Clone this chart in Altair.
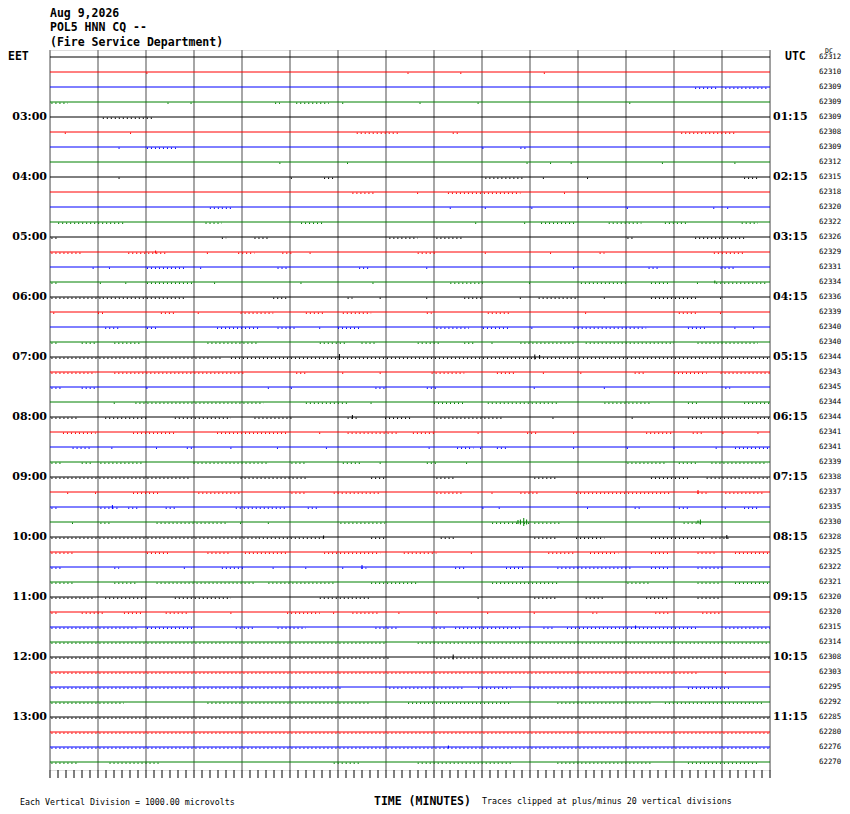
import altair as alt
import pandas as pd

# ---------------- data ----------------
title_lines = ["Aug 9,2026", "POL5 HNN CQ --", "(Fire Service Department)"]
left_times = ["03:00", "04:00", "05:00", "06:00", "07:00", "08:00",
              "09:00", "10:00", "11:00", "12:00", "13:00"]
right_times = ["01:15", "02:15", "03:15", "04:15", "05:15", "06:15",
               "07:15", "08:15", "09:15", "10:15", "11:15"]
dc_values = [62312, 62310, 62309, 62309, 62309, 62308, 62309, 62312,
             62315, 62318, 62320, 62322, 62326, 62329, 62331, 62334,
             62336, 62339, 62340, 62340, 62344, 62343, 62345, 62344,
             62344, 62341, 62341, 62339, 62338, 62337, 62335, 62330,
             62328, 62325, 62322, 62321, 62320, 62320, 62315, 62314,
             62308, 62303, 62295, 62292, 62285, 62280, 62276, 62270]
minute_labels = list(range(16))
trace_colors = ["#000000", "#ff0000", "#0000ff", "#008000"]

# noisy stretches (start minute, end minute) per trace
noise_q1 = [
    [],
    [(2.02, 2.02), (7.46, 7.46), (8.56, 8.56), (10.3, 10.3)],
    [(13.44, 13.93), (14.07, 14.95)],
    [(0.03, 0.37), (2.46, 2.46), (2.94, 2.94), (4.69, 4.79), (5.13, 5.81), (6.1, 6.1), (7.71, 7.71), (8.92, 8.92), (12.08, 12.08)],
    [(1.1, 2.17)],
    [(0.32, 0.32), (1.68, 1.68), (6.39, 7.27), (8.39, 8.53), (13.15, 14.27)],
    [(1.44, 1.44), (2.02, 2.65), (9.02, 9.02), (9.8, 9.94)],
    [(4.79, 4.79), (6.2, 6.2), (9.94, 9.94), (10.43, 10.43), (10.86, 10.86), (12.76, 12.76), (14.27, 14.27)],
    [(1.44, 1.44), (5.03, 5.03), (5.71, 5.91), (9.07, 9.89), (10.28, 10.28), (11.2, 11.2), (14.46, 14.75)],
    [(6.3, 6.78), (7.66, 7.66), (8.29, 9.8), (10.72, 10.72)],
    [(3.33, 3.82), (8.34, 8.34), (9.07, 9.07), (10.04, 10.04), (12.03, 12.03), (13.83, 13.83), (14.12, 14.12)],
    [(0.17, 1.54), (3.24, 3.58), (5.23, 5.67), (8.87, 8.87), (9.89, 9.89), (10.23, 10.96), (11.64, 12.32), (12.81, 13.29), (14.41, 14.75)],
]
noise_q2 = [
    [(0.03, 0.17), (3.58, 3.67), (4.26, 4.55), (7.07, 7.66), (8.05, 8.63), (12.03, 12.18), (13.44, 14.46)],
    [(0.03, 0.66), (1.63, 2.41), (3.28, 3.28), (3.92, 4.26), (4.84, 5.08), (5.42, 5.42), (7.66, 8.05), (9.07, 9.07), (10.43, 10.43), (11.45, 11.55), (13.83, 14.46)],
    [(0.9, 0.9), (1.24, 1.24), (2.02, 2.8), (3.14, 3.14), (4.74, 4.99), (6.44, 6.64), (7.85, 7.85), (10.91, 10.91), (12.47, 12.71), (13.97, 14.27)],
    [(0.03, 0.17), (1.05, 1.05), (1.58, 1.58), (2.02, 2.99), (3.43, 3.43), (5.23, 5.23), (6.73, 6.73), (8.34, 9.02), (9.99, 9.99), (11.06, 12.03), (12.52, 12.91), (13.49, 13.49), (13.88, 14.95)],
    [(0.03, 1.05), (1.1, 2.8), (4.65, 4.94), (6.2, 6.3), (6.88, 6.88), (7.85, 7.85), (8.63, 9.02), (9.8, 9.8), (10.18, 10.96), (11.55, 11.55), (12.52, 13.49), (13.97, 13.97)],
    [(0.08, 0.08), (1.0, 1.15), (2.31, 2.6), (3.09, 3.09), (3.97, 4.65), (5.33, 5.71), (6.1, 6.69), (7.85, 7.95), (9.12, 9.6), (11.16, 11.16), (13.1, 13.49), (13.97, 13.97)],
    [(1.15, 1.44), (2.02, 2.22), (3.48, 4.35), (4.74, 5.13), (5.62, 5.62), (6.0, 6.49), (8.05, 8.73), (9.02, 9.6), (10.04, 10.04), (10.91, 12.42), (13.29, 13.68), (14.27, 14.27), (14.66, 14.66)],
    [(0.03, 0.17), (0.66, 0.95), (1.34, 1.92), (3.28, 4.35), (5.62, 6.2), (6.49, 6.78), (7.66, 8.14), (8.63, 8.82), (9.21, 9.21), (9.8, 10.96), (11.16, 13.0), (13.49, 14.75)],
    [(0.03, 3.58), (3.77, 15.0)],
    [(0.03, 0.95), (1.34, 4.06), (5.13, 5.33), (6.1, 6.1), (6.88, 6.88), (7.95, 8.63), (9.31, 9.7), (10.28, 10.28), (11.06, 11.06), (12.18, 12.42), (13.0, 13.68), (13.97, 15.0)],
    [(0.03, 0.27), (0.66, 0.95), (2.02, 2.02), (4.55, 4.55), (5.03, 5.03), (6.78, 6.98), (7.85, 8.05), (10.09, 10.09), (11.55, 11.55), (14.07, 14.17)],
    [(1.34, 1.34), (1.78, 4.45), (5.33, 6.2), (6.69, 6.69), (8.0, 8.63), (9.12, 10.57), (11.55, 12.52), (13.29, 13.49), (14.46, 15.0)],
]
noise_q3 = [
    [(0.03, 0.56), (1.15, 2.02), (2.6, 3.77), (4.26, 5.03), (6.2, 6.39), (6.98, 7.56), (8.05, 9.41), (10.48, 10.48), (12.13, 12.13), (13.29, 15.0)],
    [(0.27, 0.95), (1.73, 2.6), (3.48, 4.94), (5.62, 5.62), (6.2, 7.27), (7.56, 8.05), (8.92, 8.92), (9.94, 10.18), (10.91, 10.91), (12.42, 13.0), (13.39, 13.59), (14.02, 14.02), (14.75, 14.75)],
    [(0.47, 0.86), (1.29, 1.29), (2.22, 2.22), (2.85, 2.99), (3.77, 3.77), (4.74, 4.74), (5.76, 5.76), (7.9, 7.9), (8.48, 8.82), (8.97, 8.97), (9.31, 9.5), (10.91, 10.91), (12.03, 12.03), (13.0, 13.0), (13.88, 13.88), (14.27, 15.0)],
    [(0.03, 0.22), (0.66, 0.86), (1.05, 1.92), (2.99, 4.55), (5.03, 5.33), (6.1, 6.49), (6.88, 6.88), (7.85, 8.05), (8.68, 8.68), (12.03, 12.81), (13.1, 13.49), (13.78, 14.95)],
    [(0.03, 2.9), (3.97, 5.33), (6.69, 6.98), (8.05, 8.44), (10.09, 10.57), (12.52, 13.29), (13.68, 15.0)],
    [(0.37, 0.37), (0.95, 0.95), (1.73, 2.31), (3.09, 3.97), (5.03, 5.33), (5.91, 6.88), (8.05, 8.63), (9.21, 9.21), (9.8, 10.18), (10.96, 12.91), (13.49, 13.68), (14.07, 14.85)],
    [(0.03, 0.17), (1.05, 1.44), (1.63, 1.83), (2.41, 2.6), (3.87, 4.94), (5.37, 5.57), (9.02, 9.02), (9.36, 9.36), (11.2, 11.2), (12.18, 12.32), (13.1, 13.29), (14.07, 14.07), (14.46, 14.75)],
    [(0.47, 0.47), (1.05, 1.24), (2.22, 3.67), (3.97, 3.97), (4.55, 4.55), (6.05, 6.98), (9.21, 9.99), (10.09, 10.67), (13.2, 13.59)],
    [(0.03, 4.35), (4.35, 5.71), (6.69, 6.98), (8.14, 8.44), (10.09, 10.57), (10.96, 11.55), (12.52, 13.68), (13.78, 14.17)],
    [(0.03, 0.47), (2.02, 2.51), (3.28, 3.77), (4.06, 4.94), (5.71, 6.88), (7.37, 8.05), (8.78, 8.78), (10.38, 10.96), (11.25, 11.84), (12.52, 12.91), (13.49, 13.88), (14.27, 15.0)],
    [(0.03, 0.27), (1.34, 1.44), (2.8, 2.8), (3.58, 4.06), (4.65, 4.65), (5.33, 5.33), (6.1, 6.1), (6.49, 6.59), (8.44, 8.63), (9.5, 9.89), (10.57, 12.13), (12.52, 12.91), (13.49, 14.07)],
    [(0.03, 0.47), (1.34, 1.83), (2.22, 4.26), (4.55, 5.91), (6.69, 7.66), (9.21, 10.57), (12.03, 12.52), (13.49, 13.97), (14.27, 15.0)],
]
noise_q4 = [
    [(0.03, 0.95), (1.15, 2.02), (2.6, 3.77), (5.62, 6.69), (8.92, 8.92), (10.09, 10.57), (11.16, 11.55), (12.42, 12.91), (13.49, 13.97)],
    [(0.03, 0.17), (0.66, 1.15), (1.54, 1.92), (2.41, 2.9), (3.77, 3.77), (4.94, 5.62), (5.91, 5.91), (6.3, 6.88), (7.27, 7.27), (8.05, 8.05), (9.12, 9.12), (10.09, 10.09), (11.3, 11.4), (12.61, 12.91), (13.59, 13.97)],
    [(0.03, 1.83), (2.02, 2.99), (3.87, 4.26), (4.74, 5.33), (6.78, 7.27), (7.95, 8.24), (8.44, 9.8), (10.28, 10.48), (10.77, 13.49), (14.07, 15.0)],
    [(0.03, 6.98), (7.66, 15.0)],
    [(0.03, 7.07), (8.05, 15.0)],
    [(0.03, 13.49), (14.07, 14.07)],
    [(0.03, 6.1), (7.07, 8.63), (8.92, 9.6), (9.99, 13.0), (13.29, 14.17)],
    [(0.03, 1.54), (3.28, 6.69), (7.46, 9.6), (10.57, 12.52), (12.81, 14.85)],
    [(0.03, 15.0)],
    [(0.03, 15.0)],
    [(0.03, 15.0)],
    [(0.03, 0.56), (1.24, 2.31), (5.91, 6.49), (7.66, 9.6), (10.57, 12.52), (13.29, 14.75)],
]

# larger wiggles: trace, minute, half-amplitude in pixels
event_trace = [31, 31, 31, 31, 31, 31, 20, 20, 20, 24, 29, 30, 32, 32, 34, 38, 40, 46, 13, 15]
event_minute = [9.75, 9.80, 9.87, 9.93, 13.50, 13.55, 6.03, 10.10, 10.20, 6.30,
                13.50, 1.30, 5.70, 14.10, 6.50, 12.20, 8.40, 8.30, 2.20, 13.85]
event_amp_px = [2, 2.5, 4, 2.5, 1.5, 2.5, 3, 2.5, 2, 2, 2, 2, 1.5, 2, 2, 1.5, 2.5, 1.5, 1.5, 1.5]

# ---------------- layout ----------------
W, H = 720, 720
N = len(dc_values)
SLOT_PX = H / N
TOP_OFF = 7 / SLOT_PX

xs = alt.Scale(domain=[0, 15], nice=False, zero=False)
ys = alt.Scale(domain=[-TOP_OFF, N - TOP_OFF], reverse=True, nice=False, zero=False)

traces_df = pd.DataFrame({"trace": list(range(N)),
                          "col": [trace_colors[i % 4] for i in range(N)],
                          "dc": [str(v) for v in dc_values]})

noise_rows = []
for qi, q in enumerate([noise_q1, noise_q2, noise_q3, noise_q4]):
    for j, segs in enumerate(q):
        t = qi * 12 + j
        for a, b in segs:
            if b - a < 0.03:
                a, b = a - 0.012, b + 0.012
            noise_rows.append({"trace": t, "start": a, "end": b, "col": trace_colors[t % 4]})
noise_df = pd.DataFrame(noise_rows)

ev_df = pd.DataFrame({
    "m": event_minute,
    "y0": [t - a / SLOT_PX for t, a in zip(event_trace, event_amp_px)],
    "y1": [t + a / SLOT_PX for t, a in zip(event_trace, event_amp_px)],
    "col": [trace_colors[t % 4] for t in event_trace],
})

minor_df = pd.DataFrame({"t": [i / 6 for i in range(91)]})
left_df = pd.DataFrame({"trace": [4 * (i + 1) for i in range(len(left_times))], "label": left_times})
right_df = pd.DataFrame({"trace": [4 * (i + 1) for i in range(len(right_times))], "label": right_times})
first_df = pd.DataFrame({"trace": [0]})

Y = lambda f: alt.Y(f, scale=ys, axis=None)

trace_lines = alt.Chart(traces_df).mark_rule(strokeWidth=1).encode(
    x=alt.value(0), x2=alt.value(W), y=Y("trace:Q"), color=alt.Color("col:N", scale=None))

noise = alt.Chart(noise_df).mark_rule(strokeWidth=1.4, strokeDash=[1, 3], yOffset=1.2).encode(
    x=alt.X("start:Q", scale=xs, axis=None), x2="end:Q", y=Y("trace:Q"),
    color=alt.Color("col:N", scale=None))

events = alt.Chart(ev_df).mark_rule(strokeWidth=1).encode(
    x=alt.X("m:Q", scale=xs, axis=None), y=Y("y0:Q"), y2="y1:Q",
    color=alt.Color("col:N", scale=None))

grid = alt.Chart(pd.DataFrame({"m": minute_labels})).mark_rule(color="#888888", strokeWidth=1.5).encode(
    x=alt.X("m:Q", scale=xs, axis=alt.Axis(
        values=minute_labels, format="02d", ticks=False, grid=False,
        domain=True, domainColor="black", domainWidth=1,
        labelFont="Liberation Serif", labelFontWeight="bold", labelFontSize=13,
        labelColor="black", labelPadding=10, labelFlush=False, labelOverlap=False,
        labelBound=False, title=None)),
    y=alt.value(0), y2=alt.value(H))

minor = alt.Chart(minor_df).mark_rule(color="black", strokeWidth=1).encode(
    x=alt.X("t:Q", scale=xs, axis=None), y=alt.value(H), y2=alt.value(H + 8))

side_font = dict(font="DejaVu Serif", fontWeight="bold", fontSize=11, color="black", baseline="middle")
left_lab = alt.Chart(left_df).mark_text(align="right", **side_font).encode(
    x=alt.value(-3), y=Y("trace:Q"), text="label:N")
right_lab = alt.Chart(right_df).mark_text(align="left", **side_font).encode(
    x=alt.value(723), y=Y("trace:Q"), text="label:N")

mono_b = dict(font="DejaVu Sans Mono", fontWeight="bold", fontSize=11.5, color="black")
eet = alt.Chart(first_df).mark_text(align="left", baseline="middle", **mono_b).encode(
    x=alt.value(-42), y=Y("trace:Q"), text=alt.value("EET"))
utc = alt.Chart(first_df).mark_text(align="left", baseline="middle", **mono_b).encode(
    x=alt.value(735), y=Y("trace:Q"), text=alt.value("UTC"))

dc_lab = alt.Chart(traces_df).mark_text(align="left", baseline="middle", font="DejaVu Sans Mono",
                                        fontSize=7.4, color="black").encode(
    x=alt.value(769), y=Y("trace:Q"), text="dc:N")
dc_head = alt.Chart(first_df).mark_text(align="left", baseline="alphabetic", font="DejaVu Sans Mono",
                                        fontSize=6.5, color="black").encode(
    x=alt.value(775), y=alt.value(3), text=alt.value("DC"))

title_y = [-33, -19, -4]
titles = [alt.Chart(first_df).mark_text(align="left", baseline="alphabetic", **mono_b).encode(
    x=alt.value(0), y=alt.value(title_y[i]), text=alt.value(s)) for i, s in enumerate(title_lines)]

time_title = alt.Chart(first_df).mark_text(align="left", baseline="alphabetic", **mono_b).encode(
    x=alt.value(324), y=alt.value(H + 35), text=alt.value("TIME (MINUTES)"))
small = dict(font="DejaVu Sans Mono", fontSize=8.3, color="black", baseline="alphabetic", align="left")
note_left = alt.Chart(first_df).mark_text(**small).encode(
    x=alt.value(-30), y=alt.value(H + 35), text=alt.value("Each Vertical Division = 1000.00 microvolts"))
note_right = alt.Chart(first_df).mark_text(**small).encode(
    x=alt.value(432), y=alt.value(H + 34), text=alt.value("Traces clipped at plus/minus 20 vertical divisions"))

chart = alt.layer(
    grid, trace_lines, noise, events, minor,
    left_lab, right_lab, eet, utc, dc_lab, dc_head, *titles,
    time_title, note_left, note_right,
).properties(
    width=W, height=H,
    padding={"left": 42, "top": 42, "right": 72, "bottom": 44},
    autosize="none",
).configure_view(stroke=None).configure(background="white")

chart.save("out.html", embed_options={"renderer": "svg", "actions": False})
